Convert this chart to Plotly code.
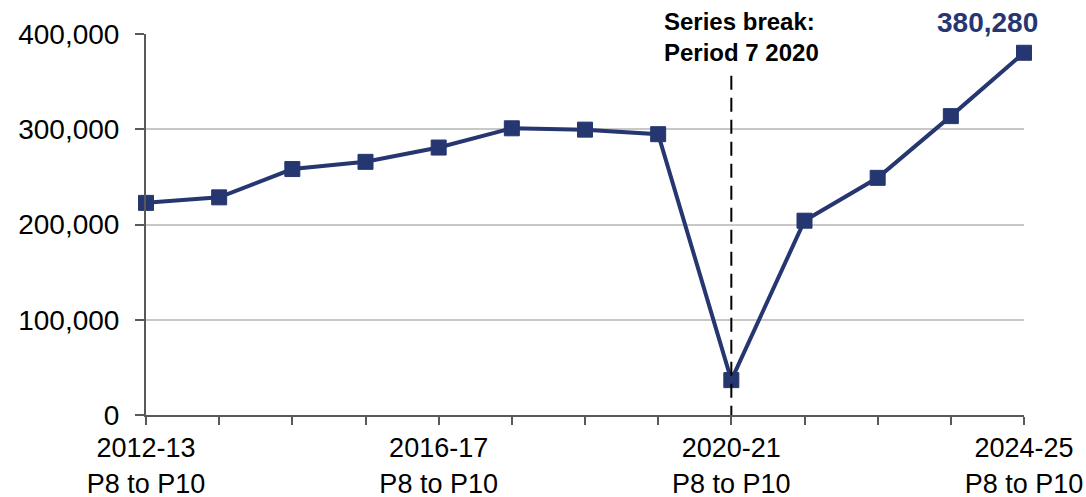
import plotly.graph_objects as go

years = ["2012-13", "2013-14", "2014-15", "2015-16", "2016-17", "2017-18", "2018-19",
         "2019-20", "2020-21", "2021-22", "2022-23", "2023-24", "2024-25"]
values = [222700, 228500, 258200, 265800, 280800, 301000, 299600,
          294800, 36600, 204000, 249000, 313800, 380280]
labelled_years = ["2012-13", "2016-17", "2020-21", "2024-25"]
period_suffix = "P8 to P10"
y_ticks = [0, 100000, 200000, 300000, 400000]
break_year = "2020-21"
break_text = "Series break:<br>Period 7 2020"
final_label = "380,280"

NAVY = "#263670"
FONT = "Liberation Sans, Arial, sans-serif"

ticktext = [f"{y}<br>{period_suffix}" if y in labelled_years else "" for y in years]

fig = go.Figure()
fig.add_trace(go.Scatter(
    x=years, y=values, mode="lines+markers",
    line=dict(color=NAVY, width=4),
    marker=dict(symbol="square", size=15, color=NAVY, line=dict(color=NAVY, width=1)),
    cliponaxis=False, hoverinfo="skip", showlegend=False,
))

fig.add_shape(type="line", xref="x", yref="y", x0=break_year, x1=break_year,
              y0=-5000, y1=360000, line=dict(color="black", width=2, dash="14px,8px"),
              layer="above")

fig.add_annotation(x=break_year, xref="x", y=0.993, yref="paper", text=break_text,
                   showarrow=False, xanchor="left", yanchor="middle", align="left",
                   xshift=-69, font=dict(family=FONT, size=24, color="black", weight="bold"))
fig.add_annotation(x=years[-1], y=values[-1], text=final_label, showarrow=False,
                   xanchor="right", yanchor="middle", xshift=16, yshift=30,
                   font=dict(family=FONT, size=28, color=NAVY, weight="bold"))

fig.update_layout(
    width=1086, height=497,
    margin=dict(l=146, r=62, t=34, b=82, autoexpand=False),
    plot_bgcolor="white", paper_bgcolor="white",
    font=dict(family=FONT, size=28, color="black"),
    xaxis=dict(
        type="category", range=[0, len(years) - 1],
        tickmode="array", tickvals=years, ticktext=ticktext,
        ticks="outside", ticklen=8, tickwidth=2, tickcolor="#595959",
        showline=True, linecolor="#595959", linewidth=2,
        showgrid=False, zeroline=False, tickangle=0,
        ticklabelstandoff=0,
        tickfont=dict(family=FONT, size=27, color="black"),
    ),
    yaxis=dict(
        range=[0, 400000], tickvals=y_ticks,
        tickformat=",d",
        ticks="outside", ticklen=9, tickwidth=2, tickcolor="#595959",
        showline=True, linecolor="#595959", linewidth=2,
        showgrid=True, gridcolor="#c8c8c8", gridwidth=1.5, zeroline=False,
        ticklabelstandoff=10,
        tickfont=dict(family=FONT, size=28, color="black"),
    ),
)

fig.write_html(
    "out.html",
    config={"displayModeBar": False},
    post_script="document.body.style.margin='0';document.body.style.overflow='hidden';",
)
